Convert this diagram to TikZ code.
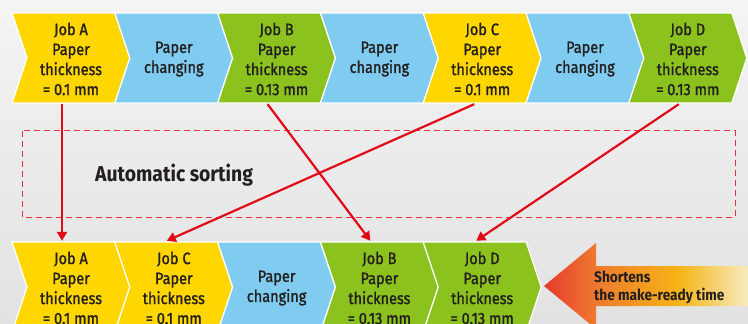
\documentclass[tikz,border=0pt]{standalone}
\usepackage{fontspec}
\setmainfont{Fira Sans}[FakeStretch=0.9]
\newfontfamily\chevfont{Fira Sans}[FakeStretch=0.88, FakeBold=1.3]
\usetikzlibrary{arrows.meta}
\definecolor{cyel}{HTML}{FFD600}
\definecolor{cblu}{HTML}{7FCCF0}
\definecolor{cgrn}{HTML}{8CC21E}
\definecolor{ctxt}{HTML}{231F20}
\definecolor{cred}{HTML}{E30A17}
\definecolor{cdash}{HTML}{E8303F}
\definecolor{bgtop}{HTML}{F4F4F4}
\definecolor{bgbot}{HTML}{E2E2E2}
\definecolor{ar1}{HTML}{E63A2C}
\definecolor{ar2}{HTML}{EE7B30}
\definecolor{ar3}{HTML}{F5B416}
\definecolor{ar4}{HTML}{F6EBC0}
\pgfdeclarehorizontalshading{bigarrow}{100bp}{color(0bp)=(ar1); color(25bp)=(ar1); color(38bp)=(ar2); color(58bp)=(ar3); color(75bp)=(ar4); color(100bp)=(ar4)}
\tikzset{
  chevtext/.style={align=center, text=ctxt, inner sep=0pt, minimum height=90pt,
    font=\chevfont\fontsize{16.5}{20}\selectfont},
  sortarrow/.style={draw=cred, line width=2.2pt, -{Triangle[width=10pt,length=9pt]}},
  sortline/.style={draw=cdash, line width=1.1pt, dash pattern=on 6pt off 4pt},
  boldlabel/.style={text=ctxt, inner sep=0pt, font=\bfseries}
}
\newcommand\mkchev[5]{%
  \fill[#3, draw=white, line width=1.3pt] (#1,#2) -- ++(103,0) -- ++(15,45) -- ++(-15,45) -- ++(-103,0) -- ++(15,-45) -- cycle;
  \node[chevtext] (#4) at ({#1+59},{#2+46}) {#5};
}
\begin{document}
\begin{tikzpicture}[x=1pt,y=-1pt]
\useasboundingbox (0,0) rectangle (748,324);
\clip (0,0) rectangle (748,324);
\shade[top color=bgtop, bottom color=bgbot] (0,0) rectangle (748,324);
% top row
\mkchev{12}{13}{cyel}{tA}{Job A\\Paper\\thickness\\= 0.1 mm}
\mkchev{114.8}{13}{cblu}{tP1}{Paper\\changing}
\mkchev{217.6}{13}{cgrn}{tB}{Job B\\Paper\\thickness\\= 0.13 mm}
\mkchev{320.4}{13}{cblu}{tP2}{Paper\\changing}
\mkchev{423.2}{13}{cyel}{tC}{Job C\\Paper\\thickness\\= 0.1 mm}
\mkchev{526}{13}{cblu}{tP3}{Paper\\changing}
\mkchev{628.8}{13}{cgrn}{tD}{Job D\\Paper\\thickness\\= 0.13 mm}
% bottom row
\mkchev{12}{242}{cyel}{bA}{Job A\\Paper\\thickness\\= 0.1 mm}
\mkchev{114.8}{242}{cyel}{bC}{Job C\\Paper\\thickness\\= 0.1 mm}
\mkchev{217.6}{242}{cblu}{bP}{Paper\\changing}
\mkchev{320.4}{242}{cgrn}{bB}{Job B\\Paper\\thickness\\= 0.13 mm}
\mkchev{423.2}{242}{cgrn}{bD}{Job D\\Paper\\thickness\\= 0.13 mm}
% sorting box
\node[inner sep=0pt, minimum width=712pt, minimum height=86pt] (box) at (379,174) {};
\draw[sortline] (box.north west) rectangle (box.south east);
\node[boldlabel, font=\bfseries\fontsize{21.5}{24}\selectfont, anchor=west] (lbl) at (95,175) {Automatic sorting};
% arrows
\draw[sortarrow] ([xshift=-9pt]tA.south) -- ([xshift=-9pt,yshift=2pt]bA.north);
\draw[sortarrow] ([xshift=-9pt]tB.south) -- ([xshift=-9pt,yshift=2pt]bB.north);
\draw[sortarrow] ([xshift=-8pt]tC.south) -- ([xshift=-7pt,yshift=2pt]bC.north);
\draw[sortarrow] ([xshift=-9pt]tD.south) -- ([xshift=-6pt,yshift=2pt]bD.north);
% big arrow
\shade[shading=bigarrow] (544,286) -- (596,243) -- (596,266) -- (748,266) -- (748,306) -- (596,306) -- (596,329) -- cycle;
\node[boldlabel, font=\bfseries\fontsize{15.2}{18}\selectfont, align=left, anchor=west] (short) at (594,287) {Shortens\\the make-ready time};
\end{tikzpicture}
\end{document}
